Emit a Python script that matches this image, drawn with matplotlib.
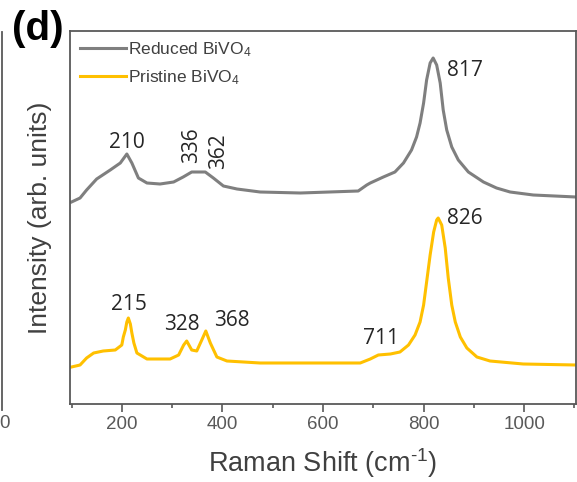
import numpy as np
import matplotlib.pyplot as plt
from matplotlib.ticker import MultipleLocator
from matplotlib.lines import Line2D

plt.rcParams['font.family'] = ['Liberation Sans', 'DejaVu Sans']
plt.rcParams['mathtext.fontset'] = 'custom'
plt.rcParams['mathtext.rm'] = 'Liberation Sans'
plt.rcParams['mathtext.it'] = 'Liberation Sans:italic'

# ---- data (arb. units) ----
shift_reduced = [100, 117, 130, 150, 177, 197, 210, 220, 233, 250, 276, 303, 322,
                 339, 366, 382, 402, 429, 475, 555, 670, 687, 694, 720, 743, 760,
                 776, 786, 793, 800, 806, 813, 819, 826, 833, 839, 846, 856, 869,
                 889, 919, 945, 972, 1018, 1103]
int_reduced = [202, 206, 214, 225, 234, 241, 250, 241, 226, 221, 220, 222, 227,
               232, 232, 226, 218, 215, 212, 211, 213, 219, 221, 227, 232, 241,
               254, 267, 281, 301, 324, 341, 346, 339, 321, 294, 274, 257, 244,
               232, 222, 216, 212, 209, 207]

shift_pristine = [100, 117, 130, 144, 163, 187, 200, 203, 207, 210, 213, 217, 220,
                  224, 230, 250, 296, 313, 323, 329, 339, 349, 359, 367, 376, 389,
                  409, 475, 634, 674, 694, 710, 734, 753, 770, 783, 793, 800, 806,
                  813, 820, 826, 829, 836, 843, 849, 856, 863, 873, 886, 906, 932,
                  998, 1103]
int_pristine = [37, 39, 46, 51, 53, 54, 59, 67, 74, 82, 86, 80, 71,
                61, 51, 45, 45, 49, 59, 63, 54, 53, 64, 73, 61, 47,
                43, 41, 41, 41, 45, 49, 50, 52, 59, 69, 82, 99, 122,
                149, 172, 184, 186, 179, 156, 126, 99, 82, 67, 56, 47, 43,
                40, 39]

peak_reduced = ['210', '336', '362', '817']
peak_pristine = ['215', '328', '368', '711', '826']

fig = plt.figure(figsize=(5.77, 4.82), dpi=100)
ax = fig.add_axes([70/577, 78/482, 506/577, 373/482])

ax.plot(shift_reduced, int_reduced, color='#7F7F7F', lw=2.2,
        solid_joinstyle='round', label='Reduced BiVO$_4$')
ax.plot(shift_pristine, int_pristine, color='#FFC000', lw=2.2,
        solid_joinstyle='round', label='Pristine BiVO$_4$')

ax.set_xlim(97, 1103)
ax.set_ylim(0, 373)
ax.set_yticks([])
ax.xaxis.set_major_locator(MultipleLocator(200))
ax.xaxis.set_minor_locator(MultipleLocator(100))
ax.tick_params(axis='x', which='major', direction='out', length=5.5, width=1.2,
               color='#595959', labelsize=13.5, labelcolor='#595959', pad=3)
ax.tick_params(axis='x', which='minor', direction='out', length=3, width=1.2,
               color='#595959')
for s in ax.spines.values():
    s.set_color('#595959')
    s.set_linewidth(1.3)

ax.set_xlabel('Raman Shift (cm$^{\\text{-1}}$)', fontsize=19.5, color='#404040',
              labelpad=10)
ax.set_ylabel('Intensity (arb. units)', fontsize=19, color='#404040')
ax.yaxis.set_label_coords(-0.035, 0.5)

# peak labels
tc = '#262626'
fs = 15
ax.text(209.5, 262, peak_reduced[0], fontsize=fs, color=tc, ha='center', va='center',
        family='Open Sans')
ax.text(339, 259, peak_reduced[1], fontsize=fs, color=tc, ha='center', va='center',
        rotation=90, family='Open Sans')
ax.text(392, 253, peak_reduced[2], fontsize=fs, color=tc, ha='center', va='center',
        rotation=90, family='Open Sans')
ax.text(846, 334, peak_reduced[3], fontsize=fs, color=tc, ha='left', va='center',
        family='Open Sans')
ax.text(214.5, 100, peak_pristine[0], fontsize=fs, color=tc, ha='center', va='center',
        family='Open Sans')
ax.text(319, 79, peak_pristine[1], fontsize=fs, color=tc, ha='center', va='center',
        family='Open Sans')
ax.text(419, 83, peak_pristine[2], fontsize=fs, color=tc, ha='center', va='center',
        family='Open Sans')
ax.text(715, 66, peak_pristine[3], fontsize=fs, color=tc, ha='center', va='center',
        family='Open Sans')
ax.text(846, 185, peak_pristine[4], fontsize=fs, color=tc, ha='left', va='center',
        family='Open Sans')

leg = ax.legend(loc='upper left', bbox_to_anchor=(0.0, 1.0), frameon=False,
                fontsize=12.5, handlelength=2.65, handletextpad=0.15,
                labelspacing=0.5, borderaxespad=0.3, borderpad=0.25)
for t in leg.get_texts():
    t.set_color('#404040')

# panel letter and remnants of the neighbouring panel
fig.text(37.5/577, 1 - 29/482, '(d)', fontsize=29, fontweight='bold',
         ha='center', va='center')
fig.add_artist(Line2D([1.5/577, 1.5/577], [1 - 32/482, 1 - 410/482],
                      color='#595959', lw=1.3))
fig.text(4/577, 1 - 424/482, '0', fontsize=13.5, color='#595959',
         ha='center', va='center')

fig.savefig('out.png', dpi=100, facecolor='white')
